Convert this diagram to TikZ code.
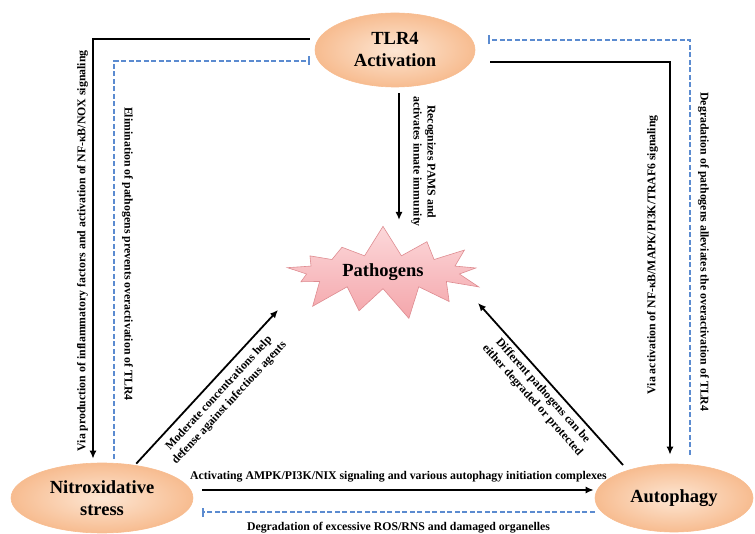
\documentclass[tikz,border=0pt]{standalone}
\usepackage{fontspec}
\setmainfont{Liberation Serif}
\usetikzlibrary{arrows.meta,positioning,shapes,shapes.symbols}

\definecolor{peach}{HTML}{FDE6D3}
\definecolor{peachdark}{HTML}{F7BC90}
\definecolor{pinklight}{HTML}{FCD8DA}
\definecolor{pinkdark}{HTML}{F4A6AB}
\definecolor{pinkline}{HTML}{DE8C91}
\definecolor{dashblue}{HTML}{5B8BD0}

\tikzset{
  state/.style = {ellipse, draw = peachdark, line width = 0.6pt, inner color = peach, outer color = peachdark, align = center, font = \fontsize{18.5}{22}\selectfont\bfseries},
  arr/.style = {-{Latex[length=8pt,width=7pt]}, line width = 1.8pt},
  inh/.style = {-{Bar[width=9pt]}, draw = dashblue, dash pattern = on 5pt off 2.5pt, line width = 1.4pt},
  lbl/.style = {font = \fontsize{11.8}{14}\selectfont\bfseries, inner sep = 2pt},
}

\begin{document}
\begin{tikzpicture}[x = 1pt, y = -1pt]
\useasboundingbox (0,0) rectangle (755,534);
\node[state, minimum width = 160pt, minimum height = 74pt] (tlr) at (395,50) {TLR4\\Activation};
\node[starburst, starburst points = 13, starburst point height = 32pt, random starburst = 7, draw = pinkline, line width = 0.6pt, top color = pinklight, bottom color = pinkdark, minimum width = 218pt, minimum height = 97pt, font = \fontsize{18.5}{22}\selectfont\bfseries] (pat) at (383,272) {Pathogens};
\node[state, minimum width = 182pt, minimum height = 70pt] (nox) at (102,498) {Nitroxidative\\stress};
\node[state, minimum width = 158pt, minimum height = 68pt] (aut) at (674,498) {Autophagy};

% left side
\draw[arr, shorten <= 5pt, shorten >= 4pt] ([yshift=11pt]tlr.west) -| ([xshift=-9pt]nox.north) node[lbl, pos=0.75, rotate=90, anchor=south, outer sep=3pt] {Via production of inflammatory factors and activation of NF-κB/NOX signaling};
\draw[inh, shorten <= 4pt] ([xshift=12pt]nox.north) |- ([shift={(-5pt,-11pt)}]tlr.west) node[lbl, pos=0.26, rotate=-90, anchor=south, outer sep=6pt] {Elimination of pathogens prevents overactivation of TLR4};

% right side
\draw[arr, shorten >= 9pt] ([shift={(15pt,-12pt)}]tlr.east) -| ([xshift=-4pt]aut.north) node[lbl, pos=0.74, rotate=90, anchor=south, outer sep=10pt] {Via activation of NF-κB/MAPK/PI3K/TRAF6 signaling};
\draw[inh, shorten <= 9pt] ([xshift=16pt]aut.north) |- ([shift={(13pt,10pt)}]tlr.east) node[lbl, pos=0.25, rotate=-90, anchor=south, outer sep=6pt] {Degradation of pathogens alleviates the overactivation of TLR4};

% towards pathogens
\draw[arr, shorten <= 6pt] ([xshift=4pt]tlr.south) -- ([shift={(16pt,52pt)}]pat.center) node[lbl, pos=0.56, rotate=-90, anchor=south, outer sep=10pt, align=center] {Recognizes PAMS and\\activates innate immunity};
\draw[arr, shorten <= 2pt] (nox.45) -- ([shift={(-105pt,-38pt)}]pat.center) node[lbl, pos=0.52, sloped, anchor=north, outer sep=6pt, align=center] {Moderate concentrations help\\defense against infectious agents};
\draw[arr] ([shift={(-51pt,33pt)}]aut.center) -- ([shift={(95pt,-31pt)}]pat.center) node[lbl, midway, sloped, anchor=north, outer sep=3pt, align=center] {Different pathogens can be\\either degraded or protected};

% bottom
\draw[arr, shorten >= 1pt] ([shift={(9pt,8pt)}]nox.east) -- ([yshift=8pt]aut.west) node[lbl, midway, above=5pt] {Activating AMPK/PI3K/NIX signaling and various autophagy initiation complexes};
\draw[inh] ([yshift=-14pt]aut.west) -- ([shift={(9pt,-14pt)}]nox.east) node[lbl, midway, below=7pt] {Degradation of excessive ROS/RNS and damaged organelles};
\end{tikzpicture}
\end{document}
